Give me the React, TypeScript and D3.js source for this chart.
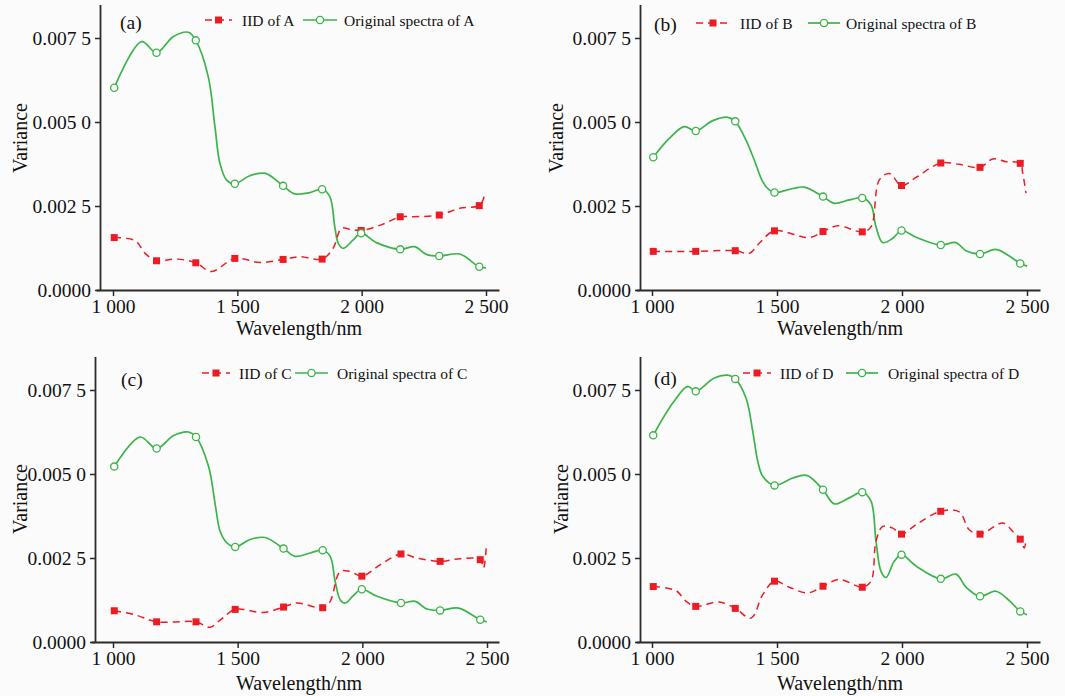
import React, { useEffect, useRef } from "react";
import * as d3 from "d3";

// wavelengths (nm) where markers are drawn
const markerWl = [1005, 1175, 1333, 1490, 1684, 1841, 1998, 2155, 2312, 2473];

const xTicks = [1000, 1500, 2000, 2500];
const xTickLabels = ["1 000", "1 500", "2 000", "2 500"];
const yTicks = [0, 0.0025, 0.005, 0.0075];
const yTickLabels = ["0.0000", "0.002 5", "0.005 0", "0.007 5"];

// panel A
const specAMarks = [0.00602, 0.00706, 0.00743, 0.00316, 0.0031, 0.003, 0.00169, 0.00121, 0.00101, 0.00069];
const specAPath: [number, number][] = [[1115, 0.00739], [1242, 0.00754], [1303, 0.00767], [1383, 0.00635], [1410, 0.00486], [1430, 0.00377], [1457, 0.00327], [1550, 0.0034], [1613, 0.00347], [1731, 0.00286], [1791, 0.0029], [1872, 0.00278], [1892, 0.00188], [1906, 0.00139], [1926, 0.00124], [1966, 0.00149], [2059, 0.00141], [2213, 0.00129], [2260, 0.00106], [2394, 0.00107], [2500, 0.00066]];
const iidAMarks = [0.00156, 0.00087, 0.00081, 0.00094, 0.00091, 0.00092, 0.00177, 0.00218, 0.00223, 0.00251];
const iidAPath: [number, number][] = [[1089, 0.00147], [1129, 0.00109], [1255, 0.00092], [1396, 0.00055], [1591, 0.00082], [1751, 0.00099], [1885, 0.00124], [1919, 0.00184], [1952, 0.00181], [2086, 0.00196], [2206, 0.00218], [2394, 0.00243], [2488, 0.00268], [2495, 0.0029]];

// panel B
const specBMarks = [0.00395, 0.00473, 0.00502, 0.0029, 0.00278, 0.00274, 0.00177, 0.00134, 0.00107, 0.00079];
const specBPath: [number, number][] = [[1069, 0.00451], [1129, 0.00486], [1243, 0.00504], [1303, 0.00514], [1376, 0.00446], [1409, 0.00387], [1443, 0.00322], [1469, 0.00298], [1563, 0.00302], [1609, 0.00306], [1729, 0.00258], [1789, 0.00268], [1876, 0.00253], [1896, 0.00188], [1923, 0.00141], [1963, 0.00154], [2056, 0.00157], [2216, 0.00141], [2256, 0.00117], [2376, 0.00121], [2429, 0.00101], [2500, 0.00071]];
const iidBMarks = [0.00115, 0.00115, 0.00117, 0.00176, 0.00174, 0.00173, 0.00311, 0.00378, 0.00365, 0.00377];
const iidBPath: [number, number][] = [[1389, 0.00109], [1429, 0.00139], [1629, 0.00156], [1743, 0.00191], [1876, 0.00188], [1909, 0.00327], [1949, 0.00347], [2056, 0.00335], [2229, 0.00374], [2363, 0.0039], [2416, 0.00382], [2483, 0.00347], [2496, 0.00288]];

// panel C
const specCMarks = [0.00522, 0.00576, 0.0061, 0.00283, 0.00278, 0.00273, 0.00157, 0.00116, 0.00094, 0.00066];
const specCPath: [number, number][] = [[1108, 0.0061], [1242, 0.00614], [1302, 0.00625], [1383, 0.00523], [1410, 0.00409], [1430, 0.00329], [1457, 0.00295], [1550, 0.00305], [1610, 0.00311], [1730, 0.00255], [1791, 0.00265], [1871, 0.00255], [1891, 0.00181], [1911, 0.00126], [1931, 0.00116], [1965, 0.00139], [2059, 0.00136], [2212, 0.00121], [2259, 0.00098], [2386, 0.00101], [2499, 0.0006]];
const iidCMarks = [0.00093, 0.0006, 0.0006, 0.00097, 0.00104, 0.00102, 0.00196, 0.00262, 0.0024, 0.00245];
const iidCPath: [number, number][] = [[1088, 0.00081], [1389, 0.00044], [1436, 0.00069], [1604, 0.00088], [1737, 0.00116], [1871, 0.00121], [1911, 0.0021], [1951, 0.0021], [2072, 0.0023], [2219, 0.0025], [2393, 0.00248], [2486, 0.0022], [2497, 0.0028]];

// panel D
const specDMarks = [0.00615, 0.00746, 0.00783, 0.00466, 0.00453, 0.00446, 0.0026, 0.00188, 0.00136, 0.00091];
const specDPath: [number, number][] = [[1083, 0.00711], [1143, 0.00761], [1249, 0.00786], [1303, 0.00794], [1376, 0.00726], [1403, 0.00627], [1423, 0.00538], [1443, 0.00493], [1563, 0.00488], [1619, 0.00496], [1729, 0.00411], [1789, 0.00429], [1876, 0.00419], [1896, 0.003], [1916, 0.0021], [1936, 0.00192], [1969, 0.0024], [2056, 0.00226], [2216, 0.00202], [2256, 0.00163], [2376, 0.00151], [2429, 0.00123], [2500, 0.00081]];
const iidDMarks = [0.00165, 0.00106, 0.001, 0.00181, 0.00166, 0.00163, 0.00321, 0.00389, 0.00321, 0.00306];
const iidDPath: [number, number][] = [[1096, 0.00153], [1136, 0.00121], [1269, 0.00119], [1396, 0.00071], [1443, 0.00141], [1549, 0.00163], [1623, 0.00146], [1749, 0.00186], [1876, 0.00181], [1896, 0.003], [1923, 0.00344], [1963, 0.00339], [2056, 0.00349], [2229, 0.00387], [2269, 0.00334], [2403, 0.00354], [2443, 0.00329], [2489, 0.0028], [2496, 0.00305]];

const RED = "#ec1c24";
const GREEN = "#3cb44a";
const AXIS = "#2b2b2b";
const FONT = "Liberation Serif, DejaVu Serif, Times New Roman, serif";

const panels = [
  { tag: "(a)", name: "A", spec: [specAMarks, specAPath], iid: [iidAMarks, iidAPath],
    x1000: 113, x2500: 486, axisX: 100, axisRight: 499, y0: 290, y75: 38,
    tagX: 120, tagY: 29, legY: 20, legBase: 26, redL: [205, 232], redT: 242, grnL: [303, 337], grnT: 344,
    yTitleX: 27, yTitleY: 138, xTitleX: 299, xTitleY: 335 },
  { tag: "(b)", name: "B", spec: [specBMarks, specBPath], iid: [iidBMarks, iidBPath],
    x1000: 652, x2500: 1027, axisX: 640, axisRight: 1040, y0: 290, y75: 38,
    tagX: 654, tagY: 31, legY: 23, legBase: 29, redL: [696, 730], redT: 740, grnL: [808, 840], grnT: 846,
    yTitleX: 563, yTitleY: 138, xTitleX: 840, xTitleY: 335 },
  { tag: "(c)", name: "C", spec: [specCMarks, specCPath], iid: [iidCMarks, iidCPath],
    x1000: 113, x2500: 487, axisX: 95, axisRight: 499, y0: 642, y75: 390,
    tagX: 121, tagY: 386, legY: 373, legBase: 379, redL: [202, 230], redT: 239, grnL: [295, 328], grnT: 337,
    yTitleX: 27, yTitleY: 499, xTitleX: 299, xTitleY: 690 },
  { tag: "(d)", name: "D", spec: [specDMarks, specDPath], iid: [iidDMarks, iidDPath],
    x1000: 652, x2500: 1027, axisX: 640, axisRight: 1040, y0: 642, y75: 390,
    tagX: 654, tagY: 385, legY: 373, legBase: 379, redL: [743, 771], redT: 780, grnL: [846, 878], grnT: 888,
    yTitleX: 568, yTitleY: 499, xTitleX: 840, xTitleY: 690 },
];

function merge(marks: number[], path: [number, number][]) {
  const pts = markerWl.map((w, i) => [w, marks[i]] as [number, number]).concat(path);
  return pts.sort((a, b) => a[0] - b[0]);
}

export default function App() {
  const ref = useRef<SVGSVGElement>(null);

  useEffect(() => {
    const svg = d3.select(ref.current);
    svg.selectAll("*").remove();
    svg.append("rect").attr("width", 1065).attr("height", 696).attr("fill", "#fbfbfb");

    panels.forEach((p) => {
      const g = svg.append("g").style("font-family", FONT);
      const top = p.y0 - (p.y0 - p.y75) * (0.0085 / 0.0075);
      const y = d3.scaleLinear().domain([0, 0.0085]).range([p.y0, top]);
      const xs = d3.scaleLinear().domain([1000, 2500]).range([p.x1000, p.x2500]);
      const left = p.axisX - 4;
      const x = d3.scaleLinear().domain([xs.invert(left), xs.invert(p.axisRight)]).range([left, p.axisRight]);

      // axes
      const ya = g.append("g").attr("transform", `translate(${p.axisX},0)`)
        .call(d3.axisLeft(y).tickValues(yTicks).tickFormat((_, i) => yTickLabels[i]).tickSize(5).tickPadding(4).tickSizeOuter(0));
      const xa = g.append("g").attr("transform", `translate(0,${p.y0})`)
        .call(d3.axisBottom(x).tickValues(xTicks).tickFormat((_, i) => xTickLabels[i]).tickSize(6).tickPadding(3).tickSizeOuter(0));
      [ya, xa].forEach((a) => {
        a.attr("font-family", null).attr("font-size", null);
        a.select(".domain").attr("stroke", AXIS).attr("stroke-width", 1.8);
        a.selectAll(".tick line").attr("stroke", AXIS).attr("stroke-width", 1.5);
        a.selectAll(".tick text").attr("fill", "#111").style("font-family", FONT).style("font-size", "19.5px");
      });

      // titles
      g.append("text").attr("transform", `translate(${p.yTitleX},${p.yTitleY}) rotate(-90)`)
        .attr("text-anchor", "middle").style("font-size", "20px").attr("fill", "#111").text("Variance");
      g.append("text").attr("x", p.xTitleX).attr("y", p.xTitleY)
        .attr("text-anchor", "middle").style("font-size", "20px").attr("fill", "#111").text("Wavelength/nm");

      const line = d3.line<[number, number]>().x((d) => x(d[0])).y((d) => y(d[1])).curve(d3.curveCatmullRom.alpha(0.5));

      const spec = merge(p.spec[0] as number[], p.spec[1] as [number, number][]);
      const iid = merge(p.iid[0] as number[], p.iid[1] as [number, number][]);

      g.append("path").attr("d", line(spec)).attr("fill", "none").attr("stroke", GREEN).attr("stroke-width", 1.7);
      g.append("path").attr("d", line(iid)).attr("fill", "none").attr("stroke", RED).attr("stroke-width", 1.5).attr("stroke-dasharray", "7,5");

      g.selectAll(".sq").data(p.iid[0] as number[]).join("rect")
        .attr("x", (_, i) => x(markerWl[i]) - 3.5).attr("y", (d) => y(d) - 3.5)
        .attr("width", 7).attr("height", 7).attr("fill", RED);
      g.selectAll(".ci").data(p.spec[0] as number[]).join("circle")
        .attr("cx", (_, i) => x(markerWl[i])).attr("cy", (d) => y(d)).attr("r", 3.6)
        .attr("fill", "#fff").attr("stroke", GREEN).attr("stroke-width", 1.3);

      // tag + legend
      g.append("text").attr("x", p.tagX).attr("y", p.tagY).style("font-size", "19.5px").attr("fill", "#111").text(p.tag);
      g.append("line").attr("x1", p.redL[0]).attr("x2", p.redL[1]).attr("y1", p.legY).attr("y2", p.legY)
        .attr("stroke", RED).attr("stroke-width", 1.5).attr("stroke-dasharray", "7,5");
      g.append("rect").attr("x", (p.redL[0] + p.redL[1]) / 2 - 3.5).attr("y", p.legY - 3.5).attr("width", 7).attr("height", 7).attr("fill", RED);
      g.append("text").attr("x", p.redT).attr("y", p.legBase).style("font-size", "15.5px").attr("fill", "#111").text(`IID of ${p.name}`);
      g.append("line").attr("x1", p.grnL[0]).attr("x2", p.grnL[1]).attr("y1", p.legY).attr("y2", p.legY)
        .attr("stroke", GREEN).attr("stroke-width", 1.7);
      g.append("circle").attr("cx", (p.grnL[0] + p.grnL[1]) / 2).attr("cy", p.legY).attr("r", 3.6)
        .attr("fill", "#fff").attr("stroke", GREEN).attr("stroke-width", 1.3);
      g.append("text").attr("x", p.grnT).attr("y", p.legBase).style("font-size", "15.5px").attr("fill", "#111").text(`Original spectra of ${p.name}`);
    });
  }, []);

  return <svg ref={ref} width={1065} height={696} style={{ position: "absolute", left: 0, top: 0 }} />;
}
